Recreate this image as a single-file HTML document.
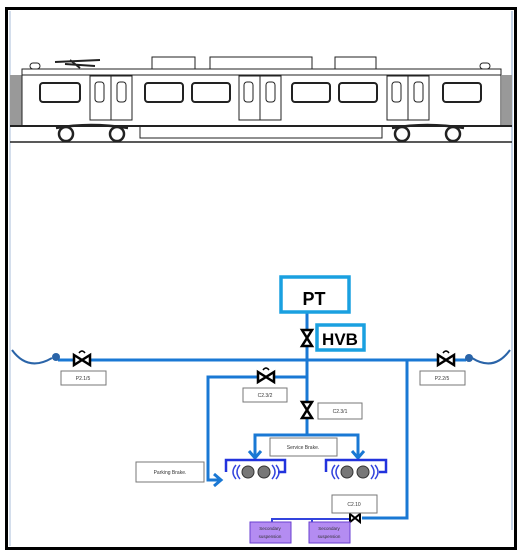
<!DOCTYPE html>
<html><head><style>
body{margin:0;background:#fff;}
svg{display:block;font-family:"Liberation Sans",sans-serif;}
</style></head><body>
<svg width="519" height="554" viewBox="0 0 519 554">
<rect x="6.5" y="8.5" width="509" height="540" fill="#fff" stroke="#000" stroke-width="3"/>
<line x1="10" y1="11" x2="10" y2="546" stroke="#c5d3e6" stroke-width="1.5"/>
<line x1="512" y1="11" x2="512" y2="530" stroke="#c5d3e6" stroke-width="2"/>
<!-- train -->
<g fill="none" stroke="#222" stroke-width="1">
<rect x="10" y="75" width="12" height="51" fill="#999" stroke="none"/>
<rect x="502" y="75" width="10" height="51" fill="#999" stroke="none"/>
<rect x="22" y="69" width="479" height="57" fill="#fff"/>
<line x1="22" y1="75" x2="501" y2="75"/>
<line x1="10" y1="126" x2="512" y2="126" stroke-width="2"/>
<line x1="10" y1="142" x2="512" y2="142" stroke-width="1.5"/>
<rect x="152" y="57" width="43" height="12" fill="#fff"/>
<rect x="210" y="57" width="102" height="12" fill="#fff"/>
<rect x="335" y="57" width="41" height="12" fill="#fff"/>
<rect x="30" y="63" width="10" height="6" rx="3"/>
<rect x="480" y="63" width="10" height="6" rx="3"/>
<path d="M55 62 L100 60 M65 64 L95 66 M70 60 L80 68" stroke-width="2"/>
<g stroke-width="2">
<rect x="40" y="83" width="40" height="19" rx="3"/>
<rect x="145" y="83" width="38" height="19" rx="3"/>
<rect x="192" y="83" width="38" height="19" rx="3"/>
<rect x="292" y="83" width="38" height="19" rx="3"/>
<rect x="339" y="83" width="38" height="19" rx="3"/>
<rect x="443" y="83" width="38" height="19" rx="3"/>
</g>
<rect x="90" y="76" width="42" height="44"/><line x1="111" y1="76" x2="111" y2="120"/>
<rect x="95" y="82" width="9" height="20" rx="3"/><rect x="117" y="82" width="9" height="20" rx="3"/>
<rect x="239" y="76" width="42" height="44"/><line x1="260" y1="76" x2="260" y2="120"/>
<rect x="244" y="82" width="9" height="20" rx="3"/><rect x="266" y="82" width="9" height="20" rx="3"/>
<rect x="387" y="76" width="42" height="44"/><line x1="408" y1="76" x2="408" y2="120"/>
<rect x="392" y="82" width="9" height="20" rx="3"/><rect x="414" y="82" width="9" height="20" rx="3"/>
<rect x="140" y="126" width="242" height="12"/>
<g stroke-width="2.5">
<circle cx="66" cy="134" r="7"/><circle cx="117" cy="134" r="7"/>
<path d="M56 128 Q90 122 128 128"/>
<circle cx="402" cy="134" r="7"/><circle cx="453" cy="134" r="7"/>
<path d="M392 128 Q427 122 464 128"/>
</g>
</g>
<!-- pipes -->
<g fill="none" stroke="#1a78d4" stroke-width="3">
<path d="M12 350 Q28 372 52 358" stroke="#2a64a8" stroke-width="2"/>
<path d="M510 350 Q494 372 472 358" stroke="#2a64a8" stroke-width="2"/>
<line x1="58" y1="360" x2="466" y2="360"/>
<line x1="307" y1="312" x2="307" y2="435"/>
<path d="M307 377 H208 V480 H220"/>
<path d="M255 457 V435 H358 V457"/>
<path d="M407 360 V518 H362"/>
<path d="M249 451 L255 458 L261 451 M352 451 L358 458 L364 451 M214 474 L221 480 L214 486"/>
</g>
<circle cx="56" cy="357" r="4" fill="#2a64a8"/>
<circle cx="469" cy="358" r="4" fill="#2a64a8"/>
<path d="M350 519 H272 V523 M312 519 V523" fill="none" stroke="#3344dd" stroke-width="2"/>
<!-- valves -->
<g fill="#fff" stroke="#000" stroke-width="2.5">
<path d="M74 355 L90 365 L90 355 L74 365Z"/>
<path d="M438 355 L454 365 L454 355 L438 365Z"/>
<path d="M258 372 L274 382 L274 372 L258 382Z"/>
<path d="M302 330 L312 346 L302 346 L312 330Z"/>
<path d="M302 402 L312 418 L302 418 L312 402Z"/>
<path d="M350 514 L360 522 L360 514 L350 522Z" stroke-width="2"/>
</g>
<g fill="none" stroke="#000" stroke-width="1.5">
<path d="M79 353 Q82 349 85 353"/><path d="M443 353 Q446 349 449 353"/><path d="M263 370 Q266 366 269 370"/>
</g>
<!-- boxes -->
<rect x="281" y="277" width="68" height="35" fill="#fff" stroke="#1aa0e0" stroke-width="3.5"/>
<text x="314" y="305" font-size="18" font-weight="bold" text-anchor="middle">PT</text>
<rect x="317" y="325" width="47" height="25" fill="#fff" stroke="#1aa0e0" stroke-width="3.5"/>
<text x="340" y="345" font-size="17" font-weight="bold" text-anchor="middle">HVB</text>
<g fill="#fff" stroke="#777" stroke-width="1">
<rect x="61" y="371" width="45" height="14"/>
<rect x="420" y="371" width="45" height="14"/>
<rect x="243" y="388" width="44" height="14"/>
<rect x="318" y="403" width="44" height="16"/>
<rect x="270" y="438" width="67" height="18"/>
<rect x="136" y="462" width="68" height="20"/>
<rect x="332" y="495" width="45" height="18"/>
</g>
<g font-size="5" text-anchor="middle" fill="#333">
<text x="83" y="380">P2.1/5</text><text x="442" y="380">P2.2/5</text>
<text x="265" y="397">C2.3/2</text><text x="340" y="413">C2.3/1</text>
<text x="303" y="449">Service Brake.</text><text x="170" y="474">Parking Brake.</text>
<text x="354" y="506">C2.10</text>
</g>
<!-- bogies -->
<g fill="none" stroke="#2233dd" stroke-width="2.5">
<path d="M226 472 V460 H285 V472 H278"/><path d="M326 472 V460 H386 V472 H379"/>
</g>
<g fill="#777" stroke="#333" stroke-width="1">
<circle cx="248" cy="472" r="6"/><circle cx="264" cy="472" r="6"/>
<circle cx="347" cy="472" r="6"/><circle cx="363" cy="472" r="6"/>
</g>
<g fill="none" stroke="#3344dd" stroke-width="1.5">
<path d="M240 465 Q234 472 240 479 M236 465 Q230 472 236 479 M272 465 Q278 472 272 479 M276 465 Q282 472 276 479"/>
<path d="M339 465 Q333 472 339 479 M335 465 Q329 472 335 479 M371 465 Q377 472 371 479 M375 465 Q381 472 375 479"/>
</g>
<!-- suspension -->
<rect x="250" y="522" width="41" height="21" fill="#b48cf2" stroke="#6a3fd0"/>
<rect x="309" y="522" width="41" height="21" fill="#b48cf2" stroke="#6a3fd0"/>
<g font-size="4.5" text-anchor="middle" fill="#333">
<text x="270" y="530">Secondary</text><text x="270" y="538">suspension</text>
<text x="329" y="530">Secondary</text><text x="329" y="538">suspension</text>
</g>
</svg>
</body></html>
